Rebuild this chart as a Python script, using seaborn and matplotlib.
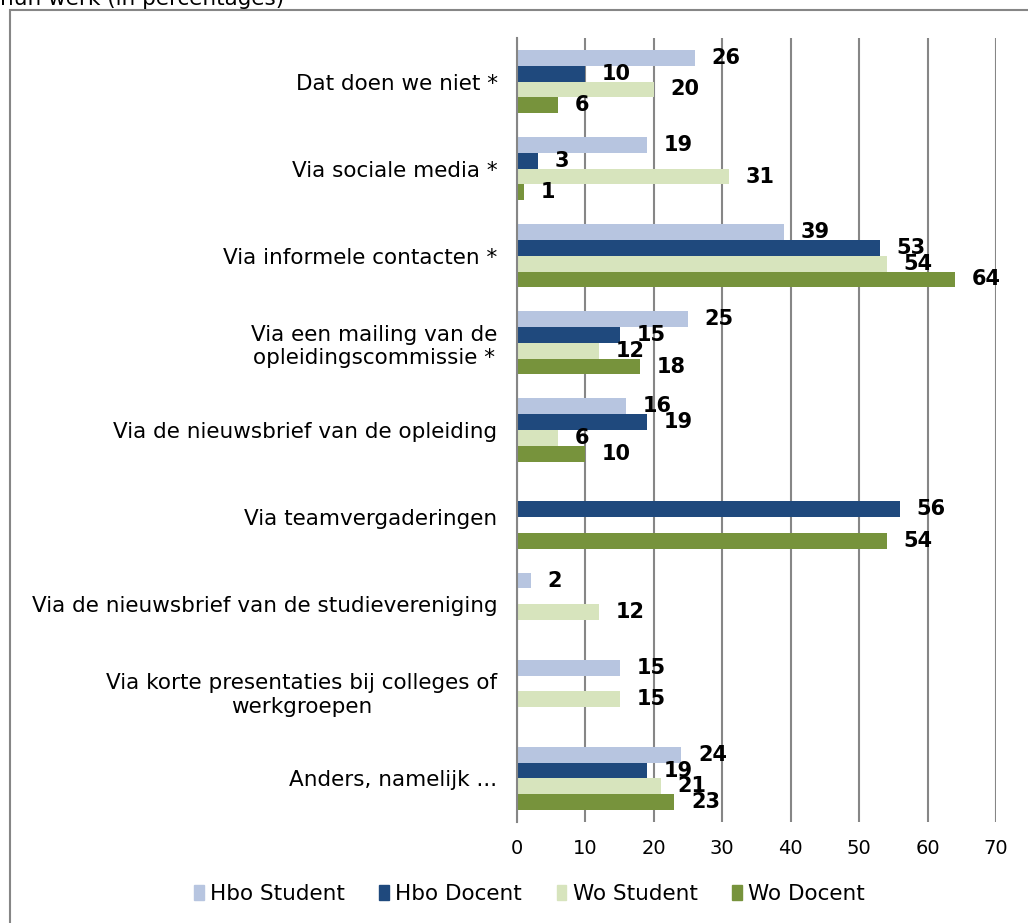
import numpy as np
import pandas as pd
import seaborn as sns
import matplotlib.pyplot as plt
from matplotlib.patches import Rectangle

# --- data ---
categories = [
    "Dat doen we niet *",
    "Via sociale media *",
    "Via informele contacten *",
    "Via een mailing van de\nopleidingscommissie *",
    "Via de nieuwsbrief van de opleiding",
    "Via teamvergaderingen",
    "Via de nieuwsbrief van de studievereniging",
    "Via korte presentaties bij colleges of\nwerkgroepen",
    "Anders, namelijk ...",
]
series = ["Hbo Student", "Hbo Docent", "Wo Student", "Wo Docent"]
hbo_student = [26, 19, 39, 25, 16, np.nan, 2, 15, 24]
hbo_docent = [10, 3, 53, 15, 19, 56, np.nan, np.nan, 19]
wo_student = [20, 31, 54, 12, 6, np.nan, 12, 15, 21]
wo_docent = [6, 1, 64, 18, 10, 54, np.nan, np.nan, 23]
colors = ["#B7C5E0", "#1F497D", "#D7E4BD", "#77933C"]

values = [hbo_student, hbo_docent, wo_student, wo_docent]
rows = []
for s, vals in zip(series, values):
    for c, v in zip(categories, vals):
        rows.append({"Categorie": c, "Groep": s, "Pct": v})
df = pd.DataFrame(rows)

sns.set_style("white")
plt.rcParams["font.family"] = ["DejaVu Sans"]
plt.rcParams["text.color"] = "black"
plt.rcParams["xtick.labelcolor"] = "black"
plt.rcParams["ytick.labelcolor"] = "black"

fig = plt.figure(figsize=(10.28, 9.23), dpi=100)
ax = fig.add_axes([517 / 1028, 1 - 822 / 923, 479 / 1028, 784 / 923])

sns.barplot(data=df, y="Categorie", x="Pct", hue="Groep", order=categories,
            hue_order=series, palette=colors, orient="h", errorbar=None,
            width=0.725, saturation=1, linewidth=0, ax=ax, legend=False)

for cont in ax.containers:
    ax.bar_label(cont, fmt="%d", padding=12, fontsize=15, fontweight="bold",
                 color="black")

ax.set_xlim(0, 70)
ax.set_ylim(len(categories) - 0.5, -0.5)
ax.set_xticks(range(0, 71, 10))
ax.set_xlabel("")
ax.set_ylabel("")
ax.xaxis.grid(True, color="#868686", linewidth=1.5)
ax.set_axisbelow(True)

ax.tick_params(axis="x", length=5, width=1.5, color="#868686", labelsize=14, pad=7)
ax.tick_params(axis="y", which="major", length=0, labelsize=15.5, pad=14)
ax.set_yticks(np.arange(-0.5, len(categories), 1), minor=True)
ax.tick_params(axis="y", which="minor", length=6, width=1.5, color="#868686")
for lbl in ax.get_yticklabels():
    lbl.set_multialignment("center")

for side in ["top", "right", "bottom"]:
    ax.spines[side].set_visible(False)
ax.spines["left"].set_color("#868686")
ax.spines["left"].set_linewidth(1.5)

# legend with small square markers
handles = [Rectangle((0, 0), 1, 1, color=c) for c in colors]
fig.legend(handles, series, loc="center", bbox_to_anchor=(0.515, 0.031), ncol=4,
           frameon=False, fontsize=15.5, handlelength=0.45, handleheight=0.7,
           handletextpad=0.3, columnspacing=1.6)

# outer chart frame and the clipped title line above it
fig.patches.append(Rectangle((10 / 1028, -0.1), 1.2, 1 - 10 / 923 + 0.1,
                             transform=fig.transFigure, fill=False,
                             edgecolor="#868686", linewidth=1.5))
fig.text(0.0, 1 - 5 / 923, "hun werk (in percentages)", fontsize=15.5,
         va="baseline", ha="left")

fig.savefig("out.png", dpi=100)
